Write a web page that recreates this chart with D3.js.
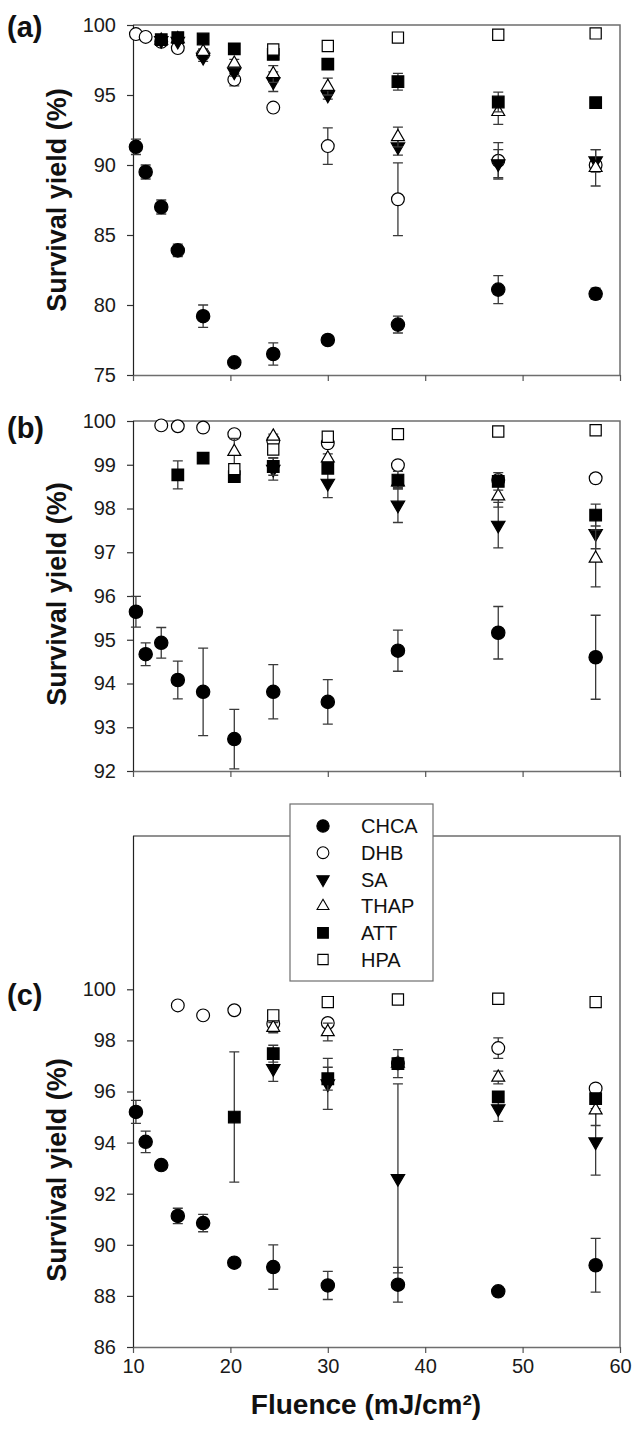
<!DOCTYPE html>
<html>
<head>
<meta charset="utf-8">
<script src="https://cdn.jsdelivr.net/npm/d3@7"></script>
<style>
  body { margin: 0; background: #fff; }
  svg { display: block; font-family: Arial, "Liberation Sans", sans-serif; }
</style>
</head>
<body>
<div id="chart"></div>
<script>
// fluence values (mJ/cm2), shared by all panels
const fluence = [10.3, 11.3, 12.9, 14.6, 17.2, 20.4, 24.4, 30.0, 37.2, 47.5, 57.5];
const matrices = ['CHCA', 'DHB', 'SA', 'THAP', 'ATT', 'HPA'];

// panel (a)
const chcaA = [91.3, 89.5, 87.0, 83.9, 79.2, 75.9, 76.5, 77.5, 78.6, 81.1, 80.8];
const chcaAErr = [0.55, 0.5, 0.5, 0.45, 0.8, 0.2, 0.8, 0.2, 0.6, 1.0, 0.4];
const dhbA = [99.35, 99.15, 98.8, 98.35, 97.9, 96.1, 94.1, 91.35, 87.55, 90.3, 90.0];
const dhbAErr = [0.1, 0.1, 0.2, 0.2, 0.2, 0.45, 0.2, 1.3, 2.6, 1.3, 0.3];
const saA = [null, null, 98.9, 98.85, 97.7, 96.65, 95.95, 95.0, 91.3, 90.1, 90.3];
const saAErr = [0, 0, 0.1, 0.1, 0.3, 0.3, 0.7, 0.3, 0.6, 1.0, 0.8];
const thapA = [null, null, 98.9, 99.0, 98.1, 97.25, 96.5, 95.6, 92.0, 93.8, 89.8];
const thapAErr = [0, 0, 0.1, 0.1, 0.2, 0.3, 0.6, 0.6, 0.7, 0.9, 1.3];
const attA = [null, null, 98.95, 99.1, 99.0, 98.3, 97.9, 97.2, 95.95, 94.5, 94.45];
const attAErr = [0, 0, 0.1, 0.1, 0.1, 0.1, 0.1, 0.2, 0.6, 0.7, 0.3];
const hpaA = [null, null, null, null, null, null, 98.25, 98.5, 99.1, 99.3, 99.4];
const hpaAErr = [0, 0, 0, 0, 0, 0, 0.05, 0.05, 0.05, 0.05, 0.05];

// panel (b)
const chcaB = [95.64, 94.67, 94.93, 94.08, 93.81, 92.73, 93.81, 93.58, 94.75, 95.16, 94.6];
const chcaBErr = [0.35, 0.26, 0.35, 0.43, 1.0, 0.68, 0.62, 0.51, 0.47, 0.6, 0.96];
const dhbB = [null, null, 99.9, 99.88, 99.85, 99.7, 99.55, 99.49, 98.99, 98.65, 98.69];
const dhbBErr = [0, 0, 0.02, 0.02, 0.02, 0.05, 0.05, 0.05, 0.05, 0.1, 0.1];
const saB = [null, null, null, null, null, null, 98.9, 98.58, 98.08, 97.62, 97.43];
const saBErr = [0, 0, 0, 0, 0, 0, 0.25, 0.33, 0.4, 0.52, 0.35];
const thapB = [null, null, null, null, null, 99.3, 99.65, 99.15, 98.6, 98.28, 96.86];
const thapBErr = [0, 0, 0, 0, 0, 0.3, 0.05, 0.1, 0.15, 0.25, 0.65];
const attB = [null, null, null, 98.77, 99.15, 98.73, 98.96, 98.92, 98.65, 98.62, 97.85];
const attBErr = [0, 0, 0, 0.32, 0.05, 0.05, 0.2, 0.1, 0.2, 0.2, 0.25];
const hpaB = [null, null, null, null, null, 98.9, 99.35, 99.64, 99.7, 99.76, 99.79];
const hpaBErr = [0, 0, 0, 0, 0, 0.05, 0.05, 0.05, 0.05, 0.05, 0.05];

// panel (c)
const chcaC = [95.2, 94.03, 93.12, 91.13, 90.85, 89.3, 89.13, 88.41, 88.44, 88.18, 89.2];
const chcaCErr = [0.45, 0.42, 0.15, 0.3, 0.34, 0.1, 0.87, 0.55, 0.68, 0.1, 1.05];
const dhbC = [null, null, null, 99.37, 98.98, 99.18, 98.65, 98.68, 97.1, 97.7, 96.12];
const dhbCErr = [0, 0, 0, 0.05, 0.05, 0.05, 0.1, 0.1, 0.2, 0.4, 0.15];
const saC = [null, null, null, null, null, null, 96.9, 96.3, 92.6, 95.33, 94.03];
const saCErr = [0, 0, 0, 0, 0, 0, 0.5, 1.0, 3.7, 0.5, 1.3];
const thapC = [null, null, null, null, null, null, 98.5, 98.33, 97.1, 96.55, 95.27];
const thapCErr = [0, 0, 0, 0, 0, 0, 0.2, 0.35, 0.2, 0.25, 0.6];
const attC = [null, null, null, null, null, 95.0, 97.48, 96.5, 97.09, 95.79, 95.72];
const attCErr = [0, 0, 0, 0, 0, 2.55, 0.33, 0.45, 0.55, 0.2, 0.2];
const hpaC = [null, null, null, null, null, null, 98.98, 99.5, 99.6, 99.63, 99.5];
const hpaCErr = [0, 0, 0, 0, 0, 0, 0.05, 0.05, 0.05, 0.05, 0.05];

const xTicks = [10, 20, 30, 40, 50, 60];

const width = 633, height = 1429;
const left = 133, right = 620;

const svg = d3.select('#chart').append('svg')
  .attr('width', width)
  .attr('height', height);

const x = d3.scaleLinear().domain([10, 60]).range([left, right]);

// marker styles per matrix, in legend / drawing order
const markerStyle = {
  CHCA: { type: d3.symbolCircle, size: 140, fill: '#000', rot: 0 },
  DHB:  { type: d3.symbolCircle, size: 128, fill: '#fff', rot: 0 },
  SA:   { type: d3.symbolTriangle, size: 78, fill: '#000', rot: 180 },
  THAP: { type: d3.symbolTriangle, size: 72, fill: '#fff', rot: 0 },
  ATT:  { type: d3.symbolSquare, size: 135, fill: '#000', rot: 0 },
  HPA:  { type: d3.symbolSquare, size: 125, fill: '#fff', rot: 0 }
};

const panels = [
  { label: '(a)', labelY: 37, top: 25, bottom: 375, domain: [75, 100], ticks: [75, 80, 85, 90, 95, 100],
    titleY: 200, showX: false,
    series: [[chcaA, chcaAErr], [dhbA, dhbAErr], [saA, saAErr], [thapA, thapAErr], [attA, attAErr], [hpaA, hpaAErr]] },
  { label: '(b)', labelY: 438, top: 421, bottom: 771, domain: [92, 100], ticks: [92, 93, 94, 95, 96, 97, 98, 99, 100],
    titleY: 594, showX: false,
    series: [[chcaB, chcaBErr], [dhbB, dhbBErr], [saB, saBErr], [thapB, thapBErr], [attB, attBErr], [hpaB, hpaBErr]] },
  { label: '(c)', labelY: 1005, top: 836, bottom: 1347, domain: [86, 106], ticks: [86, 88, 90, 92, 94, 96, 98, 100],
    titleY: 1170, showX: true,
    series: [[chcaC, chcaCErr], [dhbC, dhbCErr], [saC, saCErr], [thapC, thapCErr], [attC, attCErr], [hpaC, hpaCErr]] }
];

panels.forEach(p => {
  const y = d3.scaleLinear().domain(p.domain).range([p.bottom, p.top]);
  const g = svg.append('g');

  // frame (top + right)
  g.append('path')
    .attr('d', `M${left},${p.top}H${right}V${p.bottom}`)
    .attr('fill', 'none')
    .attr('stroke', '#6e6e6e')
    .attr('stroke-width', 1.5);

  // x axis
  const xAxis = g.append('g')
    .attr('transform', `translate(0,${p.bottom})`)
    .call(d3.axisBottom(x).tickValues(xTicks).tickSize(6).tickSizeOuter(0)
      .tickFormat(p.showX ? d3.format('d') : ''));
  xAxis.select('.domain').attr('stroke', '#6e6e6e').attr('stroke-width', 1.5);
  xAxis.selectAll('.tick line').attr('stroke', '#555').attr('stroke-width', 1.2);
  xAxis.selectAll('.tick text')
    .attr('font-size', 20).attr('fill', '#1a1a1a').attr('dy', '0.85em')
    .attr('font-family', 'Arial, "Liberation Sans", sans-serif');

  // y axis
  const yAxis = g.append('g')
    .attr('transform', `translate(${left},0)`)
    .call(d3.axisLeft(y).tickValues(p.ticks).tickSize(6).tickPadding(11).tickSizeOuter(0));
  yAxis.select('.domain').attr('stroke', '#222').attr('stroke-width', 1.2)
    .attr('d', `M0.5,${p.top}V${p.bottom}`);
  yAxis.selectAll('.tick line').attr('stroke', '#333').attr('stroke-width', 1.2);
  yAxis.selectAll('.tick text')
    .attr('font-size', 20).attr('fill', '#1a1a1a')
    .attr('font-family', 'Arial, "Liberation Sans", sans-serif');

  // y title
  g.append('text')
    .attr('transform', `translate(66,${p.titleY}) rotate(-90)`)
    .attr('text-anchor', 'middle')
    .attr('font-size', 27)
    .attr('font-weight', 'bold')
    .attr('fill', '#111')
    .text('Survival yield (%)');

  // panel label
  g.append('text')
    .attr('x', 7)
    .attr('y', p.labelY)
    .attr('font-size', 29)
    .attr('font-weight', 'bold')
    .attr('fill', '#111')
    .text(p.label);

  // series: error bars then markers, in legend order
  p.series.forEach((s, si) => {
    const name = matrices[si];
    const st = markerStyle[name];
    const pts = fluence.map((f, i) => ({ f, v: s[0][i], e: s[1][i] })).filter(d => d.v != null);

    const eb = g.append('g').attr('stroke', '#3a3a3a').attr('stroke-width', 1.3).attr('fill', 'none');
    pts.filter(d => d.e > 0).forEach(d => {
      const cx = x(d.f);
      const y1 = y(d.v + d.e), y2 = y(d.v - d.e);
      eb.append('path').attr('d',
        `M${cx},${y1}V${y2}M${cx - 5},${y1}H${cx + 5}M${cx - 5},${y2}H${cx + 5}`);
    });

    g.append('g').selectAll('path')
      .data(pts)
      .join('path')
      .attr('d', d3.symbol().type(st.type).size(st.size))
      .attr('transform', d => `translate(${x(d.f)},${y(d.v)}) rotate(${st.rot})`)
      .attr('fill', st.fill)
      .attr('stroke', '#000')
      .attr('stroke-width', 1.2);
  });
});

// x title
svg.append('text')
  .attr('x', 366)
  .attr('y', 1414)
  .attr('text-anchor', 'middle')
  .attr('font-size', 28)
  .attr('font-weight', 'bold')
  .attr('fill', '#111')
  .text('Fluence (mJ/cm²)');

// legend
const legend = svg.append('g');
legend.append('rect')
  .attr('x', 290).attr('y', 804)
  .attr('width', 143).attr('height', 177)
  .attr('fill', '#fff')
  .attr('stroke', '#6e6e6e')
  .attr('stroke-width', 1.2);

matrices.forEach((name, i) => {
  const st = markerStyle[name];
  const ly = 826 + i * 26.7;
  legend.append('path')
    .attr('d', d3.symbol().type(st.type).size(st.size * 0.85))
    .attr('transform', `translate(323,${ly}) rotate(${st.rot})`)
    .attr('fill', st.fill)
    .attr('stroke', '#000')
    .attr('stroke-width', 1.1);
  legend.append('text')
    .attr('x', 361)
    .attr('y', ly)
    .attr('dy', '0.36em')
    .attr('font-size', 20)
    .attr('fill', '#111')
    .text(name);
});
</script>
</body>
</html>
